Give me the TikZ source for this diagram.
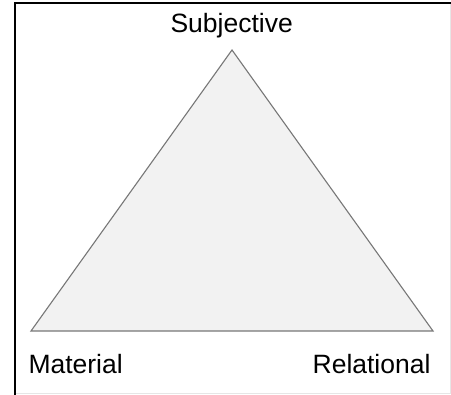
\documentclass[tikz,border=0pt]{standalone}
\usepackage{fontspec}
\setmainfont{Liberation Sans}
\definecolor{trifill}{HTML}{F2F2F2}
\definecolor{tristroke}{HTML}{777777}
\definecolor{framegray}{HTML}{E6E6E6}
\tikzset{
  lbl/.style={inner sep=0pt, font=\fontsize{26.5}{31}\selectfont, text=black},
  tri/.style={draw=tristroke, fill=trifill, line width=1.1pt, line join=miter},
}
\begin{document}
\begin{tikzpicture}[x=1pt, y=-1pt]
\useasboundingbox (0,0) rectangle (451,395);
\fill[white] (0,0) rectangle (451,395);
% frame
\draw[framegray, line width=1pt] (450,4) -- (450,394) -- (16,394);
\draw[black, line width=2pt] (15,395) -- (15,3) -- (451,3);
% triangle
\coordinate (top) at (232,50);
\coordinate (bl) at (31,331);
\coordinate (br) at (433,331);
\draw[tri] (top) -- (br) -- (bl) -- cycle;
% labels
\node[lbl, anchor=base] (subj) at (231.7,33) {Subjective};
\node[lbl, anchor=base west] (mat) at (28.3,374) {Material};
\node[lbl, anchor=base east] (rel) at (430.7,374) {Relational};
\end{tikzpicture}
\end{document}
